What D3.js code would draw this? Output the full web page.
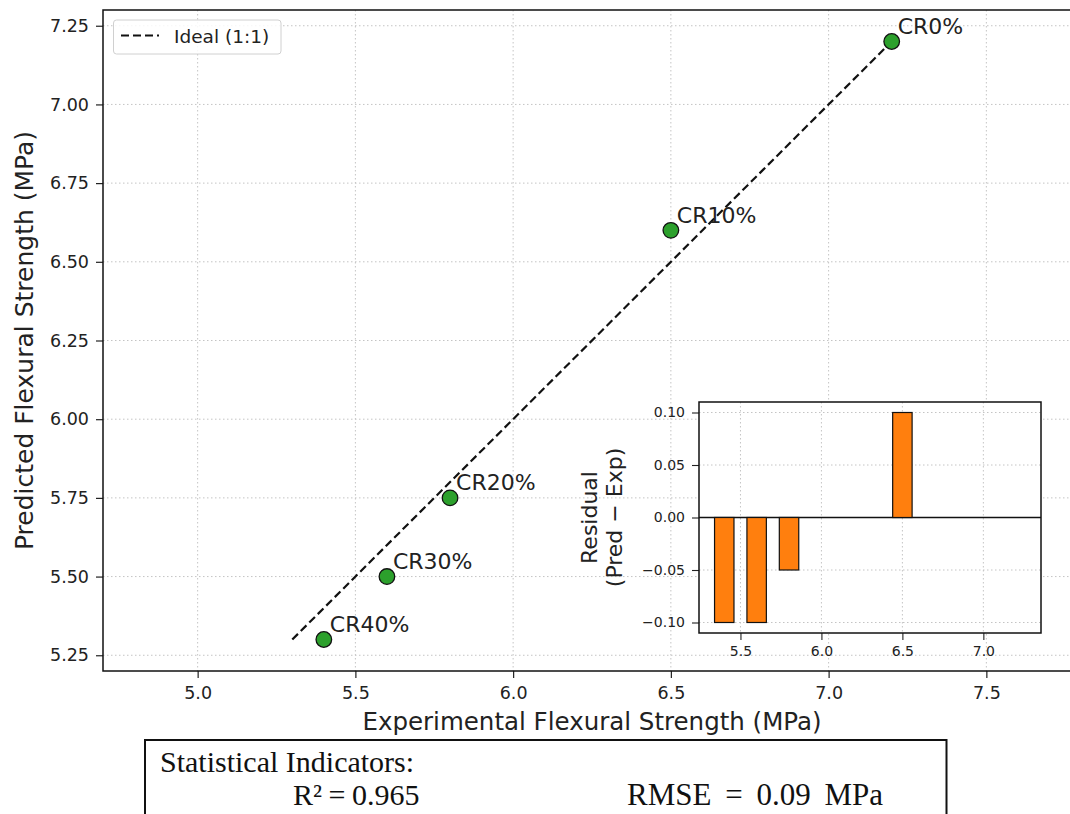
<!DOCTYPE html>
<html>
<head>
<meta charset="utf-8">
<script src="https://cdn.jsdelivr.net/npm/d3@7/dist/d3.min.js"></script>
<style>
  body { margin: 0; background: #fff; }
  svg { display: block; font-family: "DejaVu Sans", sans-serif; }
  .tick text { fill: #222; }
</style>
</head>
<body>
<div id="chart"></div>
<script>
'use strict';

// values
var mixLabels = ["CR0%", "CR10%", "CR20%", "CR30%", "CR40%"];
var experimental = [7.2, 6.5, 5.8, 5.6, 5.4];
var predicted = [7.2, 6.6, 5.75, 5.5, 5.3];
var residuals = [0.0, 0.1, -0.05, -0.1, -0.1];
var idealRange = [5.3, 7.2];

var xTicks = [5.0, 5.5, 6.0, 6.5, 7.0, 7.5];
var yTicks = [5.25, 5.5, 5.75, 6.0, 6.25, 6.5, 6.75, 7.0, 7.25];
var insetXTicks = [5.5, 6.0, 6.5, 7.0];
var insetYTicks = [-0.1, -0.05, 0.0, 0.05, 0.1];
var barWidth = 0.12;

var W = 1070, H = 814;

var svg = d3.select("#chart").append("svg")
    .attr("width", W)
    .attr("height", H);

svg.append("rect").attr("width", W).attr("height", H).attr("fill", "#fff");

// main axes area (right edge runs past the picture, like the original)
var plot = {left: 103, right: 1081, top: 10, bottom: 671};

var x = d3.scaleLinear().domain([4.7, 7.8]).range([plot.left, plot.right]);
var y = d3.scaleLinear().domain([5.2, 7.3]).range([plot.bottom, plot.top]);

var gridColor = "#c4c4c4";

// grid
svg.append("g").selectAll("line")
    .data(xTicks).enter().append("line")
    .attr("x1", function(d){ return x(d); })
    .attr("x2", function(d){ return x(d); })
    .attr("y1", plot.top).attr("y2", plot.bottom)
    .attr("stroke", gridColor).attr("stroke-width", 1)
    .attr("stroke-dasharray", "1.5,2.5");

svg.append("g").selectAll("line")
    .data(yTicks).enter().append("line")
    .attr("x1", plot.left).attr("x2", plot.right)
    .attr("y1", function(d){ return y(d); })
    .attr("y2", function(d){ return y(d); })
    .attr("stroke", gridColor).attr("stroke-width", 1)
    .attr("stroke-dasharray", "1.5,2.5");

// ideal 1:1 line
svg.append("line")
    .attr("x1", x(idealRange[0])).attr("y1", y(idealRange[0]))
    .attr("x2", x(idealRange[1])).attr("y2", y(idealRange[1]))
    .attr("stroke", "#111").attr("stroke-width", 2.2)
    .attr("stroke-dasharray", "8,4");

// points + labels
var pts = mixLabels.map(function(l, i){
    return {label: l, exp: experimental[i], pred: predicted[i]};
});

svg.append("g").selectAll("circle")
    .data(pts).enter().append("circle")
    .attr("cx", function(d){ return x(d.exp); })
    .attr("cy", function(d){ return y(d.pred); })
    .attr("r", 7.8)
    .attr("fill", "#2ca02c")
    .attr("stroke", "#111")
    .attr("stroke-width", 1.3);

svg.append("g").selectAll("text")
    .data(pts).enter().append("text")
    .attr("x", function(d){ return x(d.exp) + 6; })
    .attr("y", function(d){ return y(d.pred) - 7.5; })
    .attr("font-size", 22)
    .attr("fill", "#222")
    .text(function(d){ return d.label; });

// main axes
var xAxis = svg.append("g")
    .attr("transform", "translate(0," + plot.bottom + ")")
    .call(d3.axisBottom(x).tickValues(xTicks).tickFormat(d3.format(".1f"))
        .tickSize(7).tickPadding(8.5));
var yAxis = svg.append("g")
    .attr("transform", "translate(" + plot.left + ",0)")
    .call(d3.axisLeft(y).tickValues(yTicks).tickFormat(d3.format(".2f"))
        .tickSize(7).tickPadding(7));

[xAxis, yAxis].forEach(function(a){
    a.select(".domain").remove();
    a.selectAll(".tick line").attr("stroke", "#222").attr("stroke-width", 1.2);
    a.selectAll(".tick text").attr("font-size", 17.5).attr("font-family", "DejaVu Sans");
});

svg.append("rect")
    .attr("x", plot.left).attr("y", plot.top)
    .attr("width", plot.right - plot.left).attr("height", plot.bottom - plot.top)
    .attr("fill", "none").attr("stroke", "#111").attr("stroke-width", 1.5);

svg.append("text")
    .attr("x", (plot.left + plot.right) / 2).attr("y", 730)
    .attr("text-anchor", "middle").attr("font-size", 24.5).attr("fill", "#222")
    .text("Experimental Flexural Strength (MPa)");

svg.append("text")
    .attr("transform", "translate(33," + ((plot.top + plot.bottom) / 2) + ") rotate(-90)")
    .attr("text-anchor", "middle").attr("font-size", 25).attr("fill", "#222")
    .text("Predicted Flexural Strength (MPa)");

// legend
var legend = svg.append("g");
legend.append("rect")
    .attr("x", 113.5).attr("y", 20).attr("width", 167.5).attr("height", 34)
    .attr("rx", 3).attr("fill", "#fff").attr("fill-opacity", 0.85)
    .attr("stroke", "#d0d0d0").attr("stroke-width", 1);
legend.append("line")
    .attr("x1", 121).attr("x2", 159).attr("y1", 35.5).attr("y2", 35.5)
    .attr("stroke", "#111").attr("stroke-width", 2.2)
    .attr("stroke-dasharray", "8,4");
legend.append("text")
    .attr("x", 174).attr("y", 43).attr("font-size", 18.5).attr("fill", "#222")
    .text("Ideal (1:1)");

// inset residual plot
var inset = {left: 699, right: 1041, top: 402, bottom: 633};
var xi = d3.scaleLinear()
    .domain([5.4 - barWidth / 2 - 0.096, 7.2 + barWidth / 2 + 0.096])
    .range([inset.left, inset.right]);
var yi = d3.scaleLinear().domain([-0.11, 0.11]).range([inset.bottom, inset.top]);

svg.append("rect")
    .attr("x", inset.left).attr("y", inset.top)
    .attr("width", inset.right - inset.left).attr("height", inset.bottom - inset.top)
    .attr("fill", "#fff");

svg.append("g").selectAll("line")
    .data(insetXTicks).enter().append("line")
    .attr("x1", function(d){ return xi(d); })
    .attr("x2", function(d){ return xi(d); })
    .attr("y1", inset.top).attr("y2", inset.bottom)
    .attr("stroke", gridColor).attr("stroke-width", 1)
    .attr("stroke-dasharray", "1.5,2.5");

svg.append("g").selectAll("line")
    .data(insetYTicks).enter().append("line")
    .attr("x1", inset.left).attr("x2", inset.right)
    .attr("y1", function(d){ return yi(d); })
    .attr("y2", function(d){ return yi(d); })
    .attr("stroke", gridColor).attr("stroke-width", 1)
    .attr("stroke-dasharray", "1.5,2.5");

svg.append("line")
    .attr("x1", inset.left).attr("x2", inset.right)
    .attr("y1", yi(0)).attr("y2", yi(0))
    .attr("stroke", "#111").attr("stroke-width", 1.5);

var bars = experimental.map(function(e, i){ return {exp: e, res: residuals[i]}; });

svg.append("g").selectAll("rect")
    .data(bars).enter().append("rect")
    .attr("x", function(d){ return xi(d.exp - barWidth / 2); })
    .attr("width", function(d){ return xi(d.exp + barWidth / 2) - xi(d.exp - barWidth / 2); })
    .attr("y", function(d){ return yi(Math.max(0, d.res)); })
    .attr("height", function(d){ return Math.abs(yi(d.res) - yi(0)); })
    .attr("fill", "#ff7f0e")
    .attr("stroke", function(d){ return d.res === 0 ? "#777" : "#111"; })
    .attr("stroke-width", 1.2);

var xiAxis = svg.append("g")
    .attr("transform", "translate(0," + inset.bottom + ")")
    .call(d3.axisBottom(xi).tickValues(insetXTicks).tickFormat(d3.format(".1f"))
        .tickSize(7).tickPadding(6.5));
var yiAxis = svg.append("g")
    .attr("transform", "translate(" + inset.left + ",0)")
    .call(d3.axisLeft(yi).tickValues(insetYTicks).tickFormat(d3.format(".2f"))
        .tickSize(7).tickPadding(7));

[xiAxis, yiAxis].forEach(function(a){
    a.select(".domain").remove();
    a.selectAll(".tick line").attr("stroke", "#222").attr("stroke-width", 1.1);
    a.selectAll(".tick text").attr("font-size", 14).attr("font-family", "DejaVu Sans");
});

svg.append("rect")
    .attr("x", inset.left).attr("y", inset.top)
    .attr("width", inset.right - inset.left).attr("height", inset.bottom - inset.top)
    .attr("fill", "none").attr("stroke", "#111").attr("stroke-width", 1.5);

var insetMid = (inset.top + inset.bottom) / 2;
svg.append("text")
    .attr("transform", "translate(597," + insetMid + ") rotate(-90)")
    .attr("text-anchor", "middle").attr("font-size", 22).attr("fill", "#222")
    .text("Residual");
svg.append("text")
    .attr("transform", "translate(622," + insetMid + ") rotate(-90)")
    .attr("text-anchor", "middle").attr("font-size", 22).attr("fill", "#222")
    .text("(Pred \u2212 Exp)");

// statistics box below the chart
var stats = svg.append("g").attr("font-family", "'Liberation Serif', 'Times New Roman', serif")
    .attr("font-size", 30).attr("fill", "#111");
stats.append("rect")
    .attr("x", 145).attr("y", 740).attr("width", 801.5).attr("height", 110)
    .attr("fill", "none").attr("stroke", "#111").attr("stroke-width", 2);
stats.append("text").attr("x", 160).attr("y", 772).text("Statistical Indicators:");
stats.append("text").attr("x", 293).attr("y", 805).attr("word-spacing", -1)
    .text("R\u00b2 = 0.965");
stats.append("text").attr("x", 627).attr("y", 805).attr("font-size", 31).attr("word-spacing", 6)
    .text("RMSE = 0.09 MPa");
</script>
</body>
</html>
